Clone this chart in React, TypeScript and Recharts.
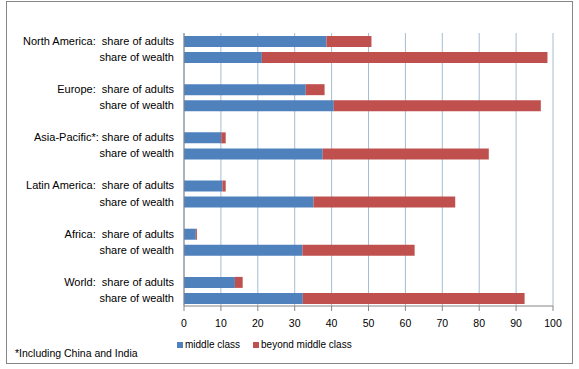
import React from "react";
import { BarChart, Bar, XAxis, YAxis, CartesianGrid, Legend } from "recharts";

const regions = ["North America", "Europe", "Asia-Pacific*", "Latin America", "Africa", "World"];
const regionSeparator = ["  ", "  ", " ", "  ", "  ", "  "];
const adultsMiddle = [38.6, 33.0, 10.1, 10.4, 3.2, 13.8];
const adultsBeyond = [12.2, 5.1, 1.2, 0.9, 0.3, 2.1];
const wealthMiddle = [21.1, 40.6, 37.6, 35.1, 32.1, 32.2];
const wealthBeyond = [77.4, 56.1, 45.0, 38.4, 30.4, 60.1];
const xTicks = [0, 10, 20, 30, 40, 50, 60, 70, 80, 90, 100];
const seriesNames = ["middle class", "beyond middle class"];

const BLUE = "#4F81BD";
const RED = "#C0504D";
const AXIS = "#868686";
const GRID = "#A6BCD1";
const FONT = "'Liberation Sans', Arial, sans-serif";

type Row = { key: string; label: string; middle?: number; beyond?: number };

const rows: Row[] = [];
regions.forEach((r, i) => {
  if (i > 0) rows.push({ key: `sp${i}`, label: "" });
  rows.push({
    key: `a${i}`,
    label: `${r}:${regionSeparator[i]}share of adults`,
    middle: adultsMiddle[i],
    beyond: adultsBeyond[i],
  });
  rows.push({
    key: `w${i}`,
    label: "share of wealth",
    middle: wealthMiddle[i],
    beyond: wealthBeyond[i],
  });
});

const labelByKey: Record<string, string> = {};
rows.forEach((r) => (labelByKey[r.key] = r.label));

const YTick = (props: any) => {
  const { x, y, payload } = props;
  const label = labelByKey[payload.value] ?? "";
  return (
    <text
      x={x}
      y={y}
      dy="0.355em"
      textAnchor="end"
      fontSize={11}
      fontFamily={FONT}
      fill="#000"
      style={{ whiteSpace: "pre" }}
    >
      {label}
    </text>
  );
};

const LegendContent = () => (
  <div style={{ display: "flex", fontFamily: FONT, fontSize: 10, color: "#000", lineHeight: "12px" }}>
    {seriesNames.map((n, i) => (
      <div key={n} style={{ display: "flex", alignItems: "center", marginRight: 13 }}>
        <span
          style={{
            display: "inline-block",
            width: 6,
            height: 6,
            background: i === 0 ? BLUE : RED,
            marginRight: 2,
          }}
        />
        <span>{n}</span>
      </div>
    ))}
  </div>
);

export default function App() {
  return (
    <div style={{ position: "absolute", left: 0, top: 0, width: 579, height: 369, background: "#fff" }}>
      <div
        style={{
          position: "absolute",
          left: 6,
          top: 1,
          width: 565,
          height: 361,
          border: `1px solid ${AXIS}`,
        }}
      />
      <BarChart
        width={579}
        height={369}
        data={rows}
        layout="vertical"
        margin={{ top: 33, right: 26, bottom: 33, left: 0 }}
        style={{ position: "absolute", left: 0, top: 0 }}
      >
        <CartesianGrid horizontal={false} stroke={GRID} strokeWidth={1} />
        <XAxis
          type="number"
          domain={[0, 100]}
          ticks={xTicks}
          interval={0}
          height={30}
          axisLine={{ stroke: AXIS }}
          tickLine={{ stroke: AXIS }}
          tickSize={5}
          tickMargin={9}
          tick={{ fill: "#000", fontSize: 10.5, fontFamily: FONT }}
        />
        <YAxis
          type="category"
          dataKey="key"
          width={184}
          interval={0}
          tickSize={0}
          tickMargin={10}
          tickLine={false}
          axisLine={{ stroke: AXIS }}
          tick={<YTick />}
        />
        <Legend
          layout="horizontal"
          verticalAlign="middle"
          align="center"
          content={<LegendContent />}
          wrapperStyle={{ position: "absolute", left: 177, top: 339, width: 260, height: 12 }}
        />
        <Bar dataKey="middle" stackId="s" fill={BLUE} barSize={11} isAnimationActive={false} name={seriesNames[0]} />
        <Bar dataKey="beyond" stackId="s" fill={RED} barSize={11} isAnimationActive={false} name={seriesNames[1]} />
      </BarChart>
      <div
        style={{
          position: "absolute",
          left: 15,
          top: 347,
          fontFamily: FONT,
          fontSize: 10.5,
          color: "#000",
          lineHeight: "12px",
          whiteSpace: "nowrap",
        }}
      >
        *Including China and India
      </div>
    </div>
  );
}
